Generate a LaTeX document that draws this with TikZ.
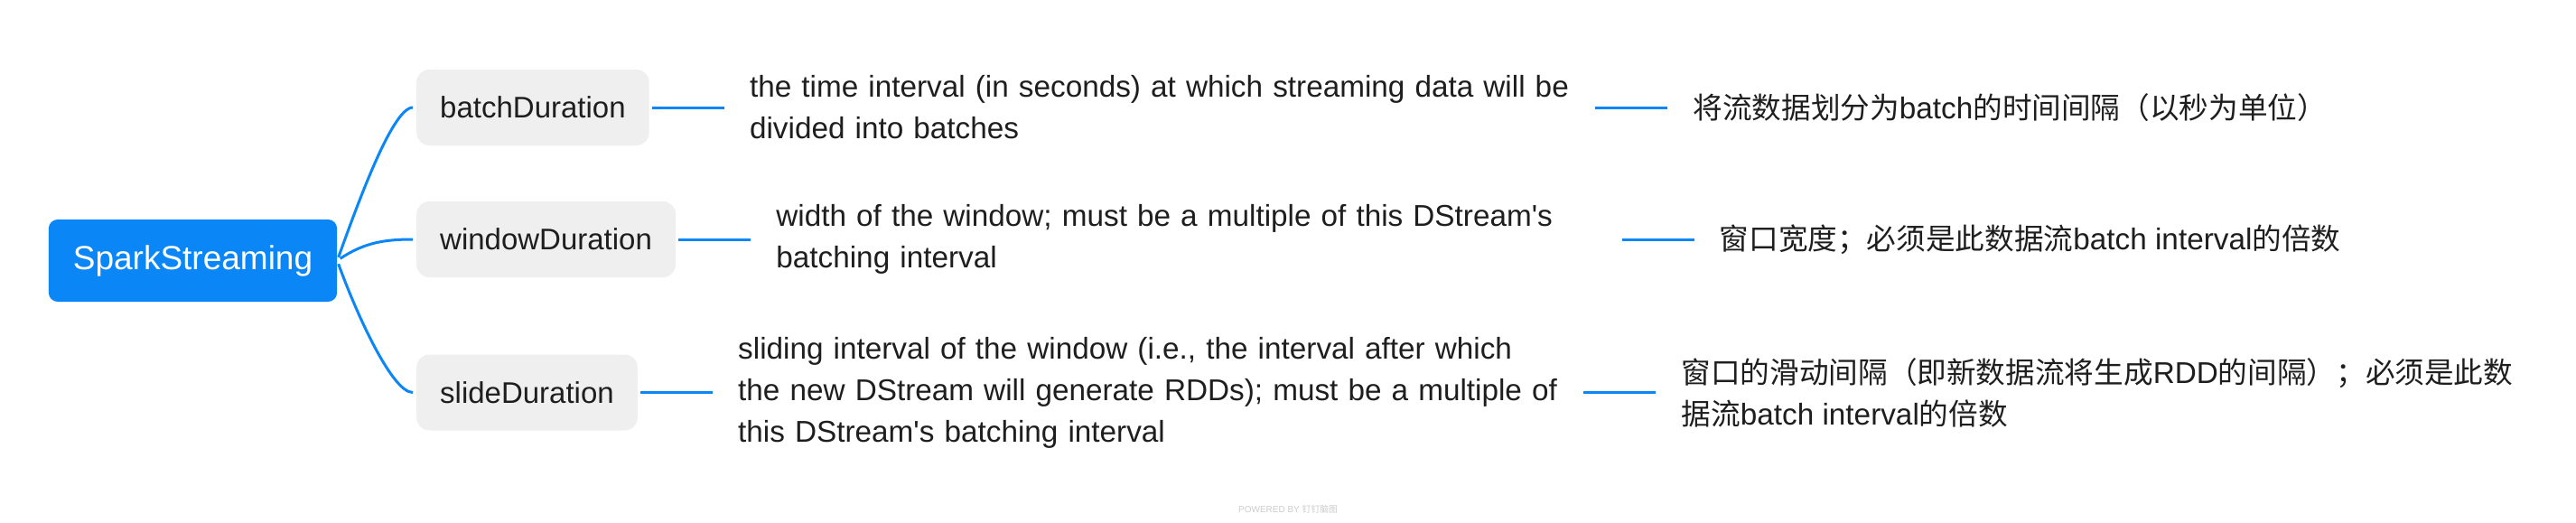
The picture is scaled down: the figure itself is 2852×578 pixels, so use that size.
\documentclass[tikz,border=0pt]{standalone}
\usepackage{fontspec}
\setmainfont{Liberation Sans}
\newfontfamily\cjk[Scale=0.98]{Noto Sans CJK SC}
\usepackage{xcolor}
\usepackage{tikz}
\usetikzlibrary{positioning}

\definecolor{mapblue}{HTML}{0A86F7}
\definecolor{topicgray}{HTML}{EFEFEF}
\definecolor{inkgray}{HTML}{1E1E1E}

\tikzset{
  rootbox/.style={fill=mapblue, rounded corners=10pt, text=white, inner xsep=27pt, minimum height=91pt, font=\fontsize{37}{44}\selectfont},
  topicbox/.style={fill=topicgray, rounded corners=14pt, text=inkgray, inner xsep=26pt, minimum height=84pt, anchor=west, font=\fontsize{33}{40}\selectfont},
  notetext/.style={anchor=west, text=inkgray, align=left, inner xsep=28pt, inner ysep=0pt, font=\fontsize{33.3}{46}\selectfont},
  branch/.style={draw=mapblue, line width=3pt},
}

\begin{document}
\begin{tikzpicture}[x=1pt, y=-1pt]
\fill[white] (0,0) rectangle (2852,578);
\useasboundingbox (0,0) rectangle (2852,578);

% Define the entities
\node (spark) at (213.5,288.5) [rootbox] {SparkStreaming};
\node (batch) at (461,119) [topicbox] {batchDuration};
\node (window) at (461,265) [topicbox] {windowDuration};
\node (slide) at (461,434.5) [topicbox] {slideDuration};

% English notes
\node (batchen) [notetext, text width=908pt, right=83pt of batch] {the time interval (in seconds) at which streaming data will be\\divided into batches};
\node (windowen) [notetext, text width=908pt, right=83pt of window] {width of the window; must be a multiple of this DStream\textquotesingle s\\batching interval};
\node (slideen) [notetext, text width=908pt, right=83pt of slide] {sliding interval of the window (i.e., the interval after which\\the new DStream will generate RDDs); must be a multiple of\\this DStream\textquotesingle s batching interval};

% Chinese notes
\node (batchzh) [notetext, right=80pt of batchen] {{\cjk 将流数据划分为}batch{\cjk 的时间间隔（以秒为单位）}};
\node (windowzh) [notetext, right=80pt of windowen] {{\cjk 窗口宽度；必须是此数据流}batch interval{\cjk 的倍数}};
\node (slidezh) [notetext, right=80pt of slideen] {{\cjk 窗口的滑动间隔（即新数据流将生成}RDD{\cjk 的间隔）；必须是此数}\\{\cjk 据流}batch interval{\cjk 的倍数}};

% Branches
\draw [branch, shorten <=4pt, shorten >=4pt] (spark.east) .. controls +(21,-58) and +(-27,0) .. (batch.west);
\draw [branch, shorten <=4pt, shorten >=4pt] (spark.east) .. controls +(30,-20) and +(-35,0) .. (window.west);
\draw [branch, shorten <=4pt, shorten >=4pt] (spark.east) .. controls +(21,58) and +(-27,0) .. (slide.west);

\draw [branch, shorten <=3pt] (batch.east) -- (batchen.west);
\draw [branch, shorten <=3pt] (window.east) -- (windowen.west);
\draw [branch, shorten <=3pt] (slide.east) -- (slideen.west);

\draw [branch] (batchen.east) -- (batchzh.west);
\draw [branch] (windowen.east) -- (windowzh.west);
\draw [branch] (slideen.east) -- (slidezh.west);

\node (credit) at (1426,564) [font=\fontsize{10}{12}\selectfont, text=black!20] {POWERED BY {\cjk 钉钉脑图}};
\end{tikzpicture}
\end{document}
